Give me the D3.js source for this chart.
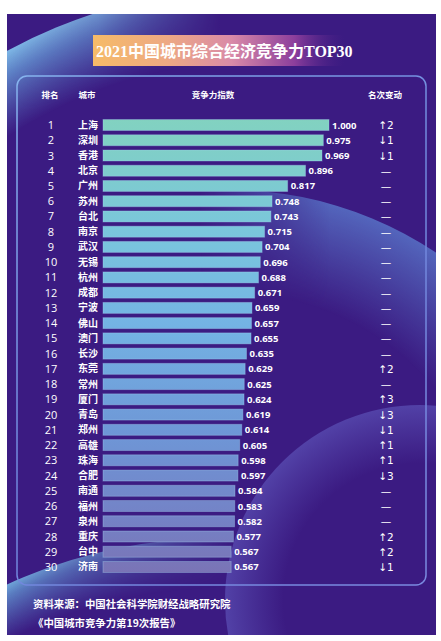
<!DOCTYPE html>
<html>
<head>
<meta charset="utf-8">
<script src="https://cdn.jsdelivr.net/npm/d3@7"></script>
<style>
  body { margin: 0; background: #fff; }
  text { font-family: "Open Sans", "Noto Sans CJK SC", sans-serif; fill: #fff; }
</style>
</head>
<body>
<script>
// 2021中国城市综合经济竞争力TOP30
var cities = ["上海","深圳","香港","北京","广州","苏州","台北","南京","武汉","无锡",
              "杭州","成都","宁波","佛山","澳门","长沙","东莞","常州","厦门","青岛",
              "郑州","高雄","珠海","合肥","南通","福州","泉州","重庆","台中","济南"];
var scores = [1.000,0.975,0.969,0.896,0.817,0.748,0.743,0.715,0.704,0.696,
              0.688,0.671,0.659,0.657,0.655,0.635,0.629,0.625,0.624,0.619,
              0.614,0.605,0.598,0.597,0.584,0.583,0.582,0.577,0.567,0.567];
// rank change vs last year: + up, - down, 0 unchanged
var changes = [2,-1,-1,0,0,0,0,0,0,0,
               0,0,0,0,0,0,2,0,3,-3,
               -1,1,1,-3,0,0,0,2,2,-1];
var headers = ["排名","城市","竞争力指数","名次变动"];

var W = 441, H = 641;
var data = cities.map(function(c, i) {
  return {rank: i + 1, city: c, score: scores[i], change: changes[i]};
});

var svg = d3.select("body").append("svg")
    .attr("width", W)
    .attr("height", H);

var defs = svg.append("defs");

defs.append("clipPath").attr("id", "panelClip")
  .append("rect").attr("x", 7).attr("y", 14).attr("width", 429).attr("height", 621);

function radial(id, cx, cy, r, stops) {
  var g = defs.append("radialGradient").attr("id", id)
      .attr("gradientUnits", "userSpaceOnUse")
      .attr("cx", cx).attr("cy", cy).attr("r", r);
  stops.forEach(function(s) {
    g.append("stop").attr("offset", s[0]).attr("stop-color", s[1]).attr("stop-opacity", s[2]);
  });
}
function linear(id, x1, y1, x2, y2, stops) {
  var g = defs.append("linearGradient").attr("id", id)
      .attr("gradientUnits", "userSpaceOnUse")
      .attr("x1", x1).attr("y1", y1).attr("x2", x2).attr("y2", y2);
  stops.forEach(function(s) {
    g.append("stop").attr("offset", s[0]).attr("stop-color", s[1]).attr("stop-opacity", s[2]);
  });
}
function fadeMask(id, gid) {
  defs.append("mask").attr("id", id)
    .append("rect").attr("x", 0).attr("y", 0).attr("width", W).attr("height", H)
    .attr("fill", "url(#" + gid + ")");
}

// background glows
radial("gTL", 260, 520, 533, [[0.86,"#5f96d8",0],[0.96,"#6aa6de",0.75],[1,"#80bce8",1]]);
linear("mTLg", 0, 0, 220, 0, [[0,"#fff",1],[0.45,"#fff",0.75],[1,"#fff",0]]);
fadeMask("mTL", "mTLg");

radial("gR", 230, 560, 370, [[0.72,"#5a78cc",0],[1,"#5c7fd0",0.75]]);
linear("mRg", 200, 0, 330, 0, [[0,"#fff",0],[1,"#fff",1]]);
fadeMask("mR", "mRg");

radial("gBR", 420, 600, 195, [[0.7,"#6a6ad0",0],[1,"#6e70d4",0.45]]);

radial("gBL", 220, 1050, 512, [[0.9,"#5f9ad8",0],[0.98,"#6aaee0",0.7],[1,"#78bce6",0.9]]);
linear("mBLg", 0, 0, 230, 0, [[0,"#fff",1],[0.5,"#fff",0.5],[1,"#fff",0]]);
fadeMask("mBL", "mBLg");

// title gradient
linear("gTitle", 93, 0, 345, 0, [[0,"#f6bb68",1],[0.3,"#eda884",1],[0.55,"#d98aa8",1],[0.8,"#8c3e9c",1],[1,"#4a1f86",0]]);

// bar gradient, top to bottom across the list
linear("gBar", 0, 118, 0, 572, [[0,"#82d2c0",1],[0.25,"#7ac6dc",1],[0.45,"#74b4e4",1],[0.7,"#6e96d6",1],[0.88,"#7482c6",1],[1,"#7a74b6",1]]);

linear("gBox", 17, 76, 426, 585, [[0,"#86b4ee",1],[0.5,"#6f86dc",1],[1,"#7a8ae0",1]]);

var panel = svg.append("g").attr("clip-path", "url(#panelClip)");
panel.append("rect")
    .attr("x", 7).attr("y", 14).attr("width", 429).attr("height", 621)
    .attr("fill", "#3b1b82");
panel.append("circle").attr("cx", 260).attr("cy", 520).attr("r", 533)
    .attr("fill", "url(#gTL)").attr("mask", "url(#mTL)");
panel.append("circle").attr("cx", 230).attr("cy", 560).attr("r", 370)
    .attr("fill", "url(#gR)").attr("mask", "url(#mR)");
panel.append("circle").attr("cx", 420).attr("cy", 600).attr("r", 195)
    .attr("fill", "url(#gBR)");
panel.append("circle").attr("cx", 220).attr("cy", 1050).attr("r", 512)
    .attr("fill", "url(#gBL)").attr("mask", "url(#mBL)");

// title
svg.append("rect")
    .attr("x", 93).attr("y", 35).attr("width", 252).attr("height", 31)
    .attr("fill", "url(#gTitle)");
svg.append("text")
    .attr("x", 96).attr("y", 56.5)
    .style("font-family", "'Liberation Serif', 'Noto Sans CJK SC', serif")
    .style("font-weight", "bold")
    .style("font-size", "16px")
    .text("2021中国城市综合经济竞争力TOP30");

// inner frame
svg.append("rect")
    .attr("x", 17).attr("y", 76).attr("width", 409).attr("height", 509)
    .attr("rx", 10)
    .attr("fill", "none")
    .attr("stroke", "url(#gBox)")
    .attr("stroke-width", 1.5);

// column headers
var headX = [50, 87, 213, 385];
svg.selectAll(".head").data(headers).enter().append("text")
    .attr("class", "head")
    .attr("x", function(d, i) { return headX[i]; })
    .attr("y", 98)
    .attr("text-anchor", "middle")
    .style("font-family", "'Noto Sans CJK SC', sans-serif")
    .style("font-weight", "bold")
    .style("font-size", "8.5px")
    .text(function(d) { return d; });

// scales
var y = d3.scaleBand()
    .domain(data.map(function(d) { return d.rank; }))
    .range([117.4, 574.6])
    .paddingInner(0.28)
    .paddingOuter(0.14);

var x = d3.scaleLinear()
    .domain([0, 1])
    .range([103, 329]);

var bh = y.bandwidth();

// bars drawn in one group so the gradient runs over the whole list
svg.append("g").selectAll("rect").data(data).enter().append("rect")
    .attr("x", x(0))
    .attr("y", function(d) { return y(d.rank); })
    .attr("width", function(d) { return x(d.score) - x(0); })
    .attr("height", bh)
    .attr("fill", "url(#gBar)")
    .attr("stroke", "#a6d4f0")
    .attr("stroke-opacity", 0.35)
    .attr("stroke-width", 1);

var rows = svg.selectAll(".row").data(data).enter().append("g")
    .attr("class", "row")
    .attr("transform", function(d) { return "translate(0," + y(d.rank) + ")"; });

rows.append("text")
    .attr("x", 51)
    .attr("y", bh / 2 + 4)
    .attr("text-anchor", "middle")
    .style("font-size", "11px")
    .text(function(d) { return d.rank; });

rows.append("text")
    .attr("x", 78)
    .attr("y", bh / 2 + 3.5)
    .style("font-family", "'Noto Sans CJK SC', sans-serif")
    .style("font-weight", "bold")
    .style("font-size", "10px")
    .text(function(d) { return d.city; });

rows.append("text")
    .attr("x", function(d) { return x(d.score) + 3; })
    .attr("y", bh / 2 + 3.5)
    .style("font-weight", "bold")
    .style("font-size", "9.5px")
    .text(function(d) { return d.score.toFixed(3); });

rows.append("text")
    .attr("x", 386)
    .attr("y", bh / 2 + 4)
    .attr("text-anchor", "middle")
    .style("font-family", "'DejaVu Sans', sans-serif")
    .style("font-size", "10.5px")
    .text(function(d) {
      if (d.change > 0) return "\u2191" + d.change;
      if (d.change < 0) return "\u2193" + (-d.change);
      return "\u2014";
    });

// source note
var notes = ["资料来源：中国社会科学院财经战略研究院", "《中国城市竞争力第19次报告》"];
svg.selectAll(".note").data(notes).enter().append("text")
    .attr("class", "note")
    .attr("x", 33)
    .attr("y", function(d, i) { return 608 + i * 19; })
    .style("font-family", "'Noto Sans CJK SC', sans-serif")
    .style("font-weight", "bold")
    .style("font-size", "10.4px")
    .text(function(d) { return d; });
</script>
</body>
</html>
